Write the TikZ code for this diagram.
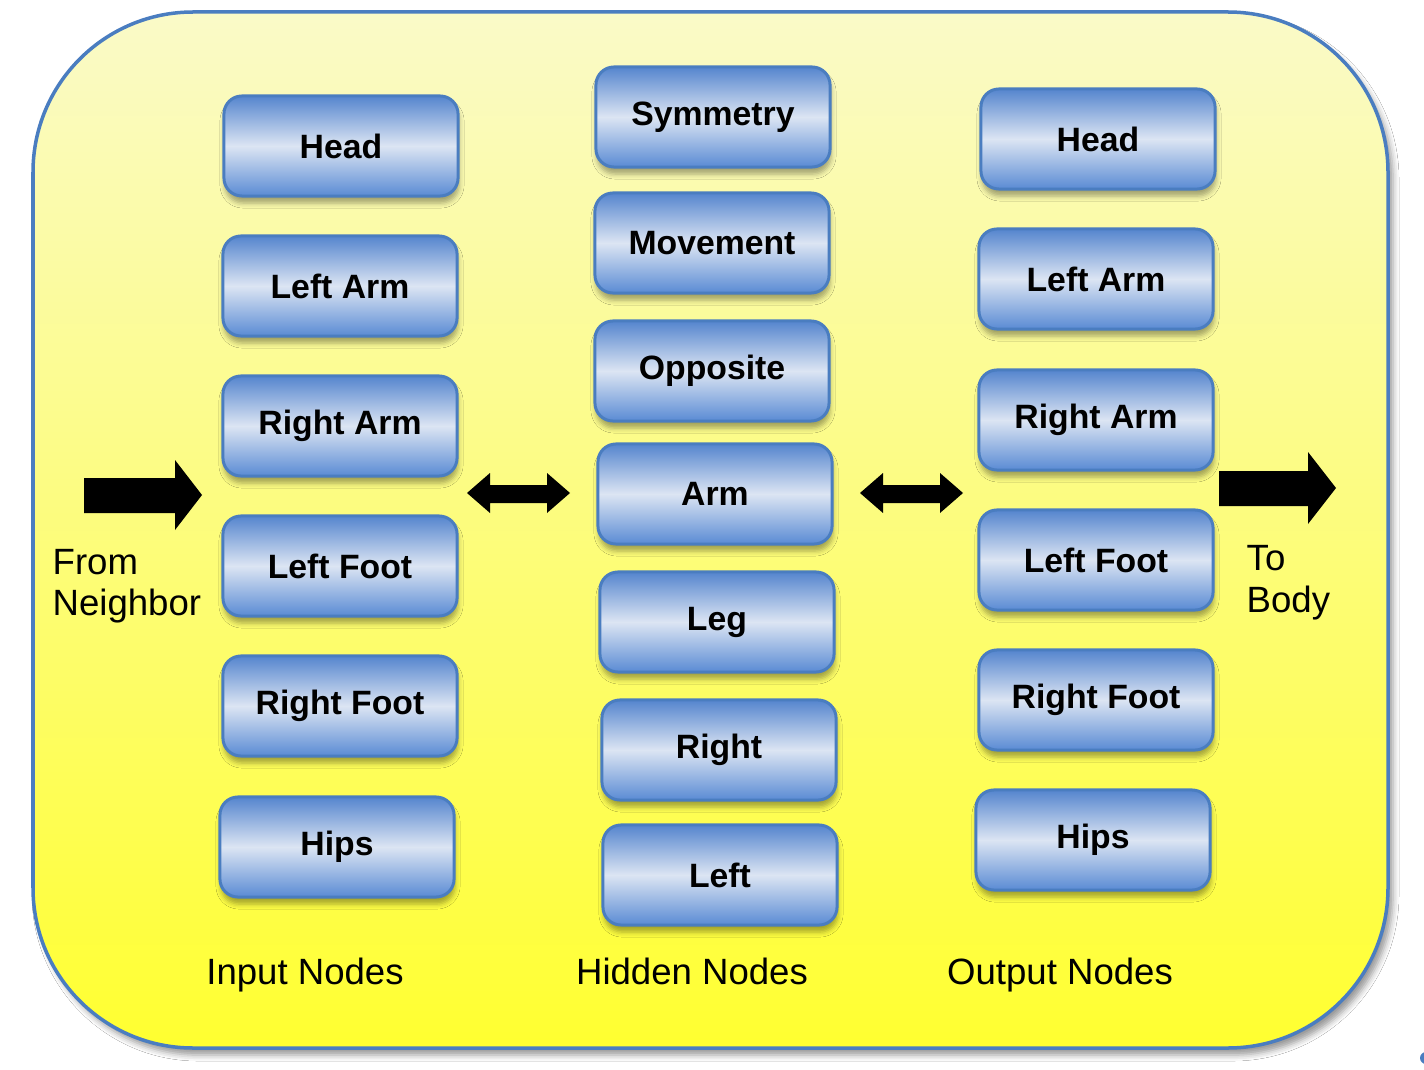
\documentclass[tikz,border=0pt]{standalone}
\usepackage{fontspec}
\setmainfont{Liberation Sans}
\usetikzlibrary{shadows.blur}
\definecolor{bgtop}{HTML}{FAFAC8}
\definecolor{bgbot}{HTML}{FFFF30}
\definecolor{edgeblue}{HTML}{4A7DC0}
\definecolor{ndtop}{HTML}{5585CE}
\definecolor{ndmid}{HTML}{DCE5F3}
\definecolor{ndbot}{HTML}{5A8BD4}
\begin{document}
\begin{tikzpicture}[x=0.01cm,y=-0.01cm,
 box/.style={draw=edgeblue, line width=0.03cm, rounded corners=0.18cm,
   minimum width=2.34cm, minimum height=1.0cm,
   top color=ndtop, bottom color=ndbot, middle color=ndmid,
   font=\fontsize{9.6}{11}\selectfont\bfseries, text=black,
   blur shadow={shadow xshift=0.01cm, shadow yshift=-0.07cm, shadow opacity=35, shadow blur radius=0.05cm, shadow blur extra rounding=0.05cm}},
 lbl/.style={font=\fontsize{10.4}{12}\selectfont, text=black, inner sep=0pt},
 bigarrow/.style={fill=black}]
\useasboundingbox (0,0) rectangle (1424,1070);
\fill[white] (0,0) rectangle (1424,1070);
\path[draw=edgeblue, line width=0.035cm, rounded corners=1.6cm,
  top color=bgtop, bottom color=bgbot,
  blur shadow={shadow xshift=0.05cm, shadow yshift=-0.07cm, shadow opacity=40, shadow blur radius=0.06cm}]
  (33,12) rectangle (1388,1048);
\fill[edgeblue] (1426,1058) circle (0.06cm);

% input nodes
\node[box] (ihead) at (341,146) {Head};
\node[box] (ilarm) at (340,286) {Left Arm};
\node[box] (irarm) at (340,426) {Right Arm};
\node[box] (ilfoot) at (340,566) {Left Foot};
\node[box] (irfoot) at (340,706) {Right Foot};
\node[box] (ihips) at (337,847) {Hips};

% hidden nodes
\node[box] (hsym) at (713,117) {Symmetry};
\node[box] (hmov) at (712,243) {Movement};
\node[box] (hopp) at (712,371) {Opposite};
\node[box] (harm) at (715,494) {Arm};
\node[box] (hleg) at (717,622) {Leg};
\node[box] (hright) at (719,750) {Right};
\node[box] (hleft) at (720,875) {Left};

% output nodes
\node[box] (ohead) at (1098,139) {Head};
\node[box] (olarm) at (1096,279) {Left Arm};
\node[box] (orarm) at (1096,420) {Right Arm};
\node[box] (olfoot) at (1096,560) {Left Foot};
\node[box] (orfoot) at (1096,700) {Right Foot};
\node[box] (ohips) at (1093,840) {Hips};

% arrows
\fill[bigarrow] (84,478) -- (175,478) -- (175,460) -- (202,495) -- (175,530) -- (175,513) -- (84,513) -- cycle;
\fill[bigarrow] (1219,471) -- (1308,471) -- (1308,452) -- (1336,488) -- (1308,524) -- (1308,506) -- (1219,506) -- cycle;
\fill[bigarrow] (467,493) -- (490,473) -- (490,485) -- (547,485) -- (547,473) -- (570,493) -- (547,513) -- (547,503) -- (490,503) -- (490,513) -- cycle;
\fill[bigarrow] (860,493) -- (883,473) -- (883,485) -- (940,485) -- (940,473) -- (963,493) -- (940,513) -- (940,503) -- (883,503) -- (883,513) -- cycle;

% labels
\node[lbl, anchor=base west] (from1) at (52,574) {From};
\node[lbl, anchor=base west] (from2) at (52,615) {Neighbor};
\node[lbl, anchor=base west] (to1) at (1246,570) {To};
\node[lbl, anchor=base west] (to2) at (1246,612) {Body};
\node[lbl, anchor=base] (linput) at (305,984) {Input Nodes};
\node[lbl, anchor=base] (lhidden) at (692,984) {Hidden Nodes};
\node[lbl, anchor=base] (loutput) at (1060,984) {Output Nodes};
\end{tikzpicture}
\end{document}
